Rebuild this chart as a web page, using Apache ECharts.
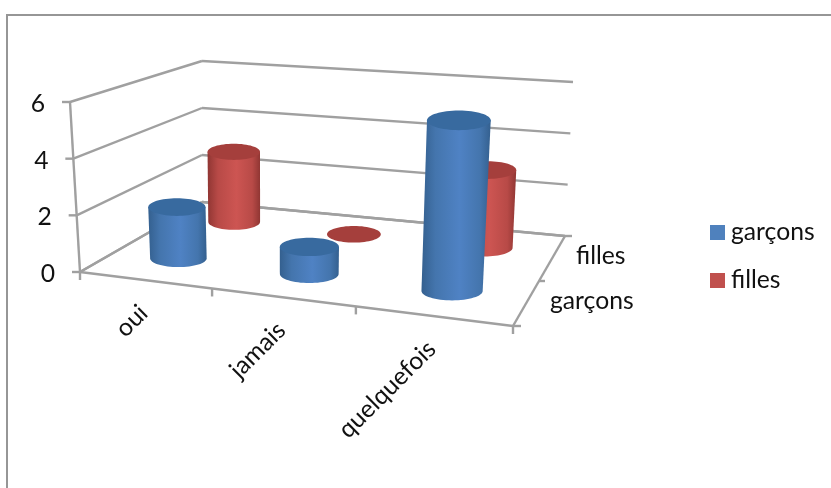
<!DOCTYPE html>
<html>
<head>
<meta charset="utf-8">
<style>html,body{margin:0;padding:0;background:#fff}#chart{width:831px;height:488px}</style>
<script src="https://cdn.jsdelivr.net/npm/echarts@6/dist/echarts.min.js"></script>
</head>
<body>
<div id="chart"></div>
<script>
// Answers per category, one list for each group
const categories = ['oui', 'jamais', 'quelquefois'];
const seriesNames = ['garçons', 'filles'];
const garcons = [2, 1, 6];
const filles = [3, 0, 3];
const yTicks = [0, 2, 4, 6];

const FONT_SIZE = 24.7;
const FONT = FONT_SIZE + 'px Lato, sans-serif';
const TEXT = '#111';
const LINE = '#a0a0a0';
const GRID = { left: 80, top: 101, width: 433, height: 171 };

// Box of the oblique view: floor and ceiling corners (front-left, front-right, back-right, back-left)
const floor = [[80, 272], [513, 326], [565, 236], [202, 202]];
const ceil = [[70, 102], [524, 140], [573, 82], [202, 61]];

const mix = (a, b, t) => [a[0] + (b[0] - a[0]) * t, a[1] + (b[1] - a[1]) * t];
// Foreshortening along the category direction
const warp = u => u / (1 + 0.139 * (1 - u));

// u: across categories, v: front to back, h: height, all in 0..1
function project(u, v, h) {
  const w = warp(u);
  const low = mix(mix(floor[0], floor[1], w), mix(floor[3], floor[2], w), v);
  const high = mix(mix(ceil[0], ceil[1], w), mix(ceil[3], ceil[2], w), v);
  return mix(low, high, h);
}
// Normalises a pixel position of the flat grid into the u/h pair used by project()
const toUnit = p => [(p[0] - GRID.left) / GRID.width, (GRID.top + GRID.height - p[1]) / GRID.height];

const lineEl = (a, b, width) => ({
  type: 'line',
  shape: { x1: a[0], y1: a[1], x2: b[0], y2: b[1] },
  style: { stroke: LINE, lineWidth: width || 2.4 }
});
const textEl = (text, x, y, align, rotation) => ({
  type: 'text',
  x, y,
  rotation: rotation || 0,
  style: { text, fill: TEXT, font: FONT, align, verticalAlign: 'middle' }
});

// Wall gridlines, value axis ticks and value labels
function renderWall(params, api) {
  const value = api.value(1);
  const h = toUnit(api.coord([0, value]))[1];
  const a = project(0, 0, h), b = project(0, 1, h), c = project(1, 1, h);
  return {
    type: 'group',
    children: [
      lineEl(a, b), lineEl(b, c),
      lineEl([a[0] - 8, a[1]], a),
      textEl(String(value), a[0] - 32, a[1] + 2, 'center')
    ]
  };
}

// Floor edges, category ticks and rotated category labels
function renderFloor(params, api) {
  const i = api.value(0);
  const center = toUnit(api.coord([i, 0]))[0];
  const half = api.size([1, 0])[0] / GRID.width / 2;
  const end = center + half;
  const tickEnd = project(end, 0, 0);
  const mid = project(center, 0, 0);
  const children = [
    lineEl(tickEnd, [tickEnd[0], tickEnd[1] + 8]),
    textEl(categories[i], mid[0] - 1, mid[1] + 29, 'right', Math.PI / 4)
  ];
  if (i === 0) {
    const start = project(0, 0, 0);
    const side = mix(floor[1], floor[2], 0.5);
    children.push(
      lineEl(floor[0], floor[1]), lineEl(floor[1], floor[2]), lineEl(floor[2], floor[3]), lineEl(floor[3], floor[0]),
      lineEl(floor[0], ceil[0]),
      lineEl(start, [start[0], start[1] + 8]),
      lineEl(floor[1], [floor[1][0] + 8, floor[1][1]]),
      lineEl(floor[2], [floor[2][0] + 7, floor[2][1]]),
      lineEl(side, [side[0] + 6, side[1]])
    );
    seriesNames.forEach((name, j) => {
      const p = project(1, (j + 0.5) / 2, 0);
      children.push(textEl(name, p[0] + 24, p[1] - 2, 'left'));
    });
  }
  return { type: 'group', children };
}

// Cylinder of one group (row) at one category, standing on the floor
function makeCylinder(row, palette) {
  const v = (row + 0.5) / 2;
  return function (params, api) {
    const i = api.value(0);
    const value = api.value(1);
    const unit = toUnit(api.coord([i, value]));
    const u = unit[0];
    const half = api.size([1, 0])[0] / GRID.width / 2;
    const shrink = 0.92 + 0.065 * u;
    const place = h => {
      const p = project(u, v, h * shrink);
      const l = project(u - half, v, h * shrink), r = project(u + half, v, h * shrink);
      const rx = (r[0] - l[0]) * (0.228 - 0.03 * u);
      return { x: p[0] + 6.5 - 4 * u, y: p[1] - 3.5, rx, ry: rx * 0.31 };
    };
    const base = place(0), top = place(unit[1]);
    const children = [];
    if (value > 0) {
      const pts = [[top.x - top.rx, top.y], [top.x + top.rx, top.y]];
      for (let k = 0; k <= 32; k++) {
        const t = Math.PI * k / 32;
        pts.push([base.x + base.rx * Math.cos(t), base.y + base.ry * Math.sin(t)]);
      }
      children.push({
        type: 'polygon',
        shape: { points: pts },
        style: {
          fill: {
            type: 'linear', x: 0, y: 0, x2: 1, y2: 0,
            colorStops: [
              { offset: 0, color: palette.edge },
              { offset: 0.2, color: palette.mid },
              { offset: 0.55, color: palette.light },
              { offset: 0.85, color: palette.mid },
              { offset: 1, color: palette.edge }
            ]
          }
        }
      });
    }
    children.push({
      type: 'ellipse',
      shape: { cx: top.x, cy: top.y, rx: top.rx, ry: top.ry },
      style: { fill: palette.cap }
    });
    return { type: 'group', children };
  };
}

const blue = { legend: '#4f81bd', edge: '#34608f', mid: '#4475ad', light: '#4f82c4', cap: '#386a9f' };
const red = { legend: '#c0504d', edge: '#903633', mid: '#b84a47', light: '#cd5552', cap: '#a53f3c' };

const cylinderSeries = (name, values, row, palette) => ({
  type: 'custom',
  name,
  coordinateSystem: 'cartesian2d',
  clip: false,
  silent: true,
  itemStyle: { color: palette.legend },
  encode: { x: 0, y: 1 },
  data: values.map((val, i) => [i, val]),
  renderItem: makeCylinder(row, palette)
});

const chart = echarts.init(document.getElementById('chart'));
chart.setOption({
  animation: false,
  backgroundColor: '#fff',
  grid: GRID,
  xAxis: { type: 'category', data: categories, show: false },
  yAxis: { type: 'value', min: 0, max: 6, interval: 2, show: false },
  legend: {
    data: seriesNames,
    orient: 'vertical',
    left: 705,
    top: 215,
    itemWidth: 15,
    itemHeight: 15,
    itemGap: 23,
    icon: 'rect',
    selectedMode: false,
    textStyle: { fontFamily: 'Lato, sans-serif', fontSize: FONT_SIZE, color: TEXT, padding: [0, 0, 0, 1] }
  },
  graphic: [
    {
      type: 'polyline',
      shape: { points: [[7, 488], [7, 15], [831, 15]] },
      style: { stroke: '#969696', lineWidth: 2, fill: 'none' },
      silent: true
    }
  ],
  series: [
    {
      type: 'custom', name: 'murs', coordinateSystem: 'cartesian2d', clip: false, silent: true,
      encode: { x: 0, y: 1 },
      data: yTicks.map(t => [0, t]),
      renderItem: renderWall
    },
    {
      type: 'custom', name: 'sol', coordinateSystem: 'cartesian2d', clip: false, silent: true,
      encode: { x: 0, y: 1 },
      data: categories.map((c, i) => [i, 0]),
      renderItem: renderFloor
    },
    cylinderSeries('filles', filles, 1, red),
    cylinderSeries('garçons', garcons, 0, blue)
  ]
});
</script>
</body>
</html>
